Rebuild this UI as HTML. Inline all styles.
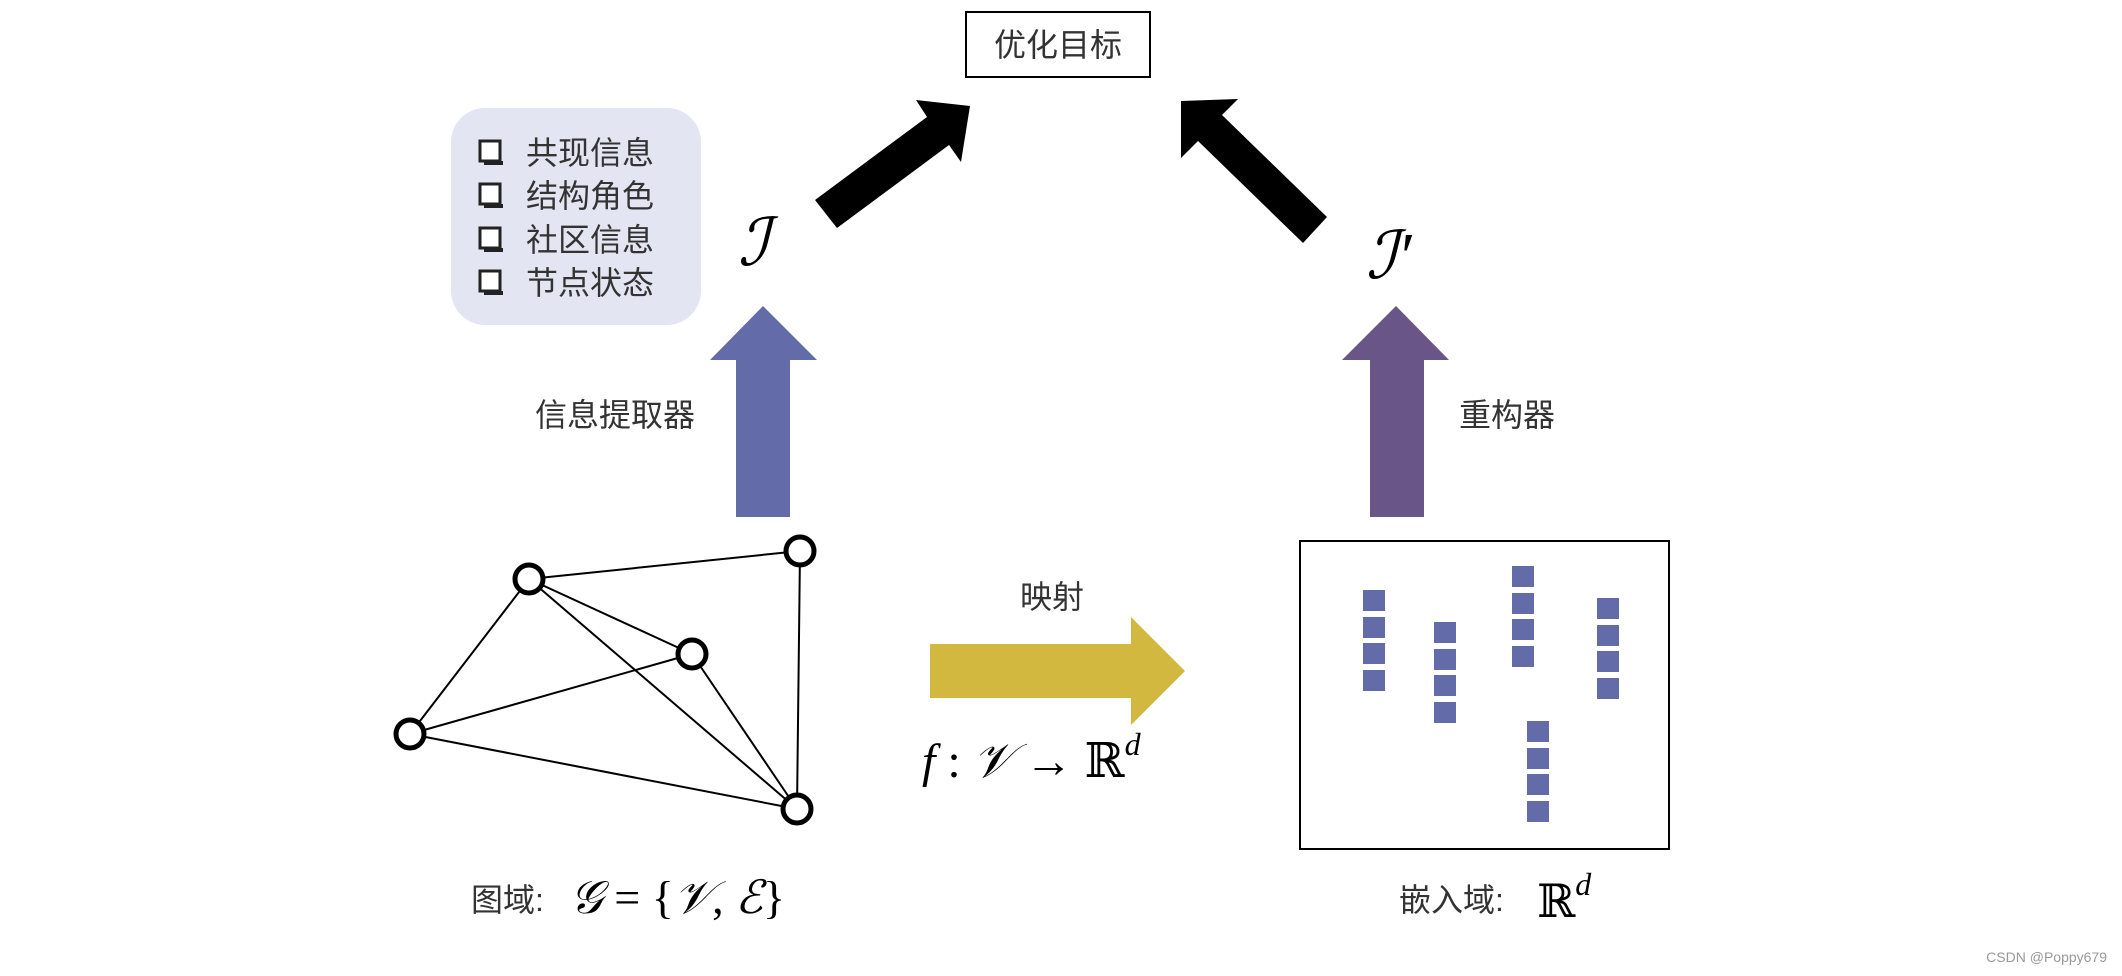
<!DOCTYPE html>
<html><head><meta charset="utf-8"><style>
html,body{margin:0;padding:0;background:#fff;}
svg{display:block;}
.cn{font-family:"Liberation Sans","Noto Sans CJK SC",sans-serif;fill:#333;}
.m{font-family:"Liberation Serif","DejaVu Serif",serif;fill:#000;}
</style></head><body>
<svg width="2122" height="976" viewBox="0 0 2122 976" xmlns="http://www.w3.org/2000/svg">
<rect x="966" y="12" width="184" height="65" fill="#fff" stroke="#000" stroke-width="2"/>
<text x="1058" y="56" text-anchor="middle" class="cn" font-size="32">优化目标</text>

<rect x="451" y="108" width="250" height="217" rx="34" fill="#e3e6f2"/>
<g fill="#fff" stroke="#222" stroke-width="3">
<rect x="480" y="141" width="20" height="20"/><rect x="480" y="184" width="20" height="20"/>
<rect x="480" y="228" width="20" height="20"/><rect x="480" y="271" width="20" height="20"/>
</g>
<g fill="#222"><rect x="484" y="161" width="19" height="4"/><rect x="484" y="204" width="19" height="4"/><rect x="484" y="248" width="19" height="4"/><rect x="484" y="291" width="19" height="4"/></g>
<g class="cn" font-size="32">
<text x="526" y="164">共现信息</text><text x="526" y="207">结构角色</text>
<text x="526" y="251">社区信息</text><text x="526" y="294">节点状态</text>
</g>

<text x="738" y="265" class="m" font-size="66" font-style="italic">ℐ</text>
<text x="1366" y="278" class="m" font-size="66" font-style="italic">ℐ′</text>

<polygon points="815,200 927,117 916,100 970,106 961,162 949,145 837,228" fill="#000"/>
<polygon points="1303,243 1198,141 1181,158 1181,101 1238,99 1222,115 1327,217" fill="#000"/>

<polygon points="736,517 736,360 710,360 763,306 817,360 790,360 790,517" fill="#636ca8"/>
<polygon points="1370,517 1370,360 1342,360 1396,306 1449,360 1424,360 1424,517" fill="#6a5589"/>
<text x="535" y="426" class="cn" font-size="32">信息提取器</text>
<text x="1459" y="426" class="cn" font-size="32">重构器</text>

<g stroke="#000" stroke-width="2">
<line x1="529" y1="579" x2="800" y2="551"/><line x1="529" y1="579" x2="692" y2="654"/>
<line x1="529" y1="579" x2="410" y2="734"/><line x1="529" y1="579" x2="797" y2="809"/>
<line x1="800" y1="551" x2="797" y2="809"/><line x1="692" y1="654" x2="410" y2="734"/>
<line x1="692" y1="654" x2="797" y2="809"/><line x1="410" y1="734" x2="797" y2="809"/>
</g>
<g fill="#fff" stroke="#000" stroke-width="5">
<circle cx="529" cy="579" r="14"/><circle cx="800" cy="551" r="14"/><circle cx="692" cy="654" r="14"/>
<circle cx="410" cy="734" r="14"/><circle cx="797" cy="809" r="14"/>
</g>

<text x="1020" y="608" class="cn" font-size="32">映射</text>
<polygon points="930,644 1131,644 1131,617 1185,671 1131,725 1131,698 930,698" fill="#d2b83f"/>
<text x="922" y="777" class="m" font-size="48"><tspan font-style="italic">f</tspan> : <tspan font-style="italic">𝒱</tspan> → ℝ<tspan font-size="32" font-style="italic" dy="-22">d</tspan></text>

<rect x="1300" y="541" width="369" height="308" fill="#fff" stroke="#000" stroke-width="2"/>
<g fill="#636ca8">
<rect x="1363" y="590" width="22" height="21"/><rect x="1363" y="617" width="22" height="21"/><rect x="1363" y="643" width="22" height="21"/><rect x="1363" y="670" width="22" height="21"/>
<rect x="1434" y="622" width="22" height="21"/><rect x="1434" y="649" width="22" height="21"/><rect x="1434" y="675" width="22" height="21"/><rect x="1434" y="702" width="22" height="21"/>
<rect x="1512" y="566" width="22" height="21"/><rect x="1512" y="593" width="22" height="21"/><rect x="1512" y="619" width="22" height="21"/><rect x="1512" y="646" width="22" height="21"/>
<rect x="1597" y="598" width="22" height="21"/><rect x="1597" y="625" width="22" height="21"/><rect x="1597" y="651" width="22" height="21"/><rect x="1597" y="678" width="22" height="21"/>
<rect x="1527" y="721" width="22" height="21"/><rect x="1527" y="748" width="22" height="21"/><rect x="1527" y="774" width="22" height="21"/><rect x="1527" y="801" width="22" height="21"/>
</g>

<text x="471" y="911" class="cn" font-size="32">图域:</text>
<text x="570" y="913" class="m" font-size="46"><tspan font-style="italic">𝒢</tspan> = {<tspan font-style="italic">𝒱</tspan>, <tspan font-style="italic">ℰ</tspan>}</text>
<text x="1399" y="911" class="cn" font-size="32">嵌入域:</text>
<text x="1537" y="917" class="m" font-size="46">ℝ<tspan font-size="32" font-style="italic" dy="-22">d</tspan></text>

<text x="2107" y="962" text-anchor="end" font-family="Liberation Sans,sans-serif" font-size="14" fill="#999">CSDN @Poppy679</text>
</svg>
</body></html>
